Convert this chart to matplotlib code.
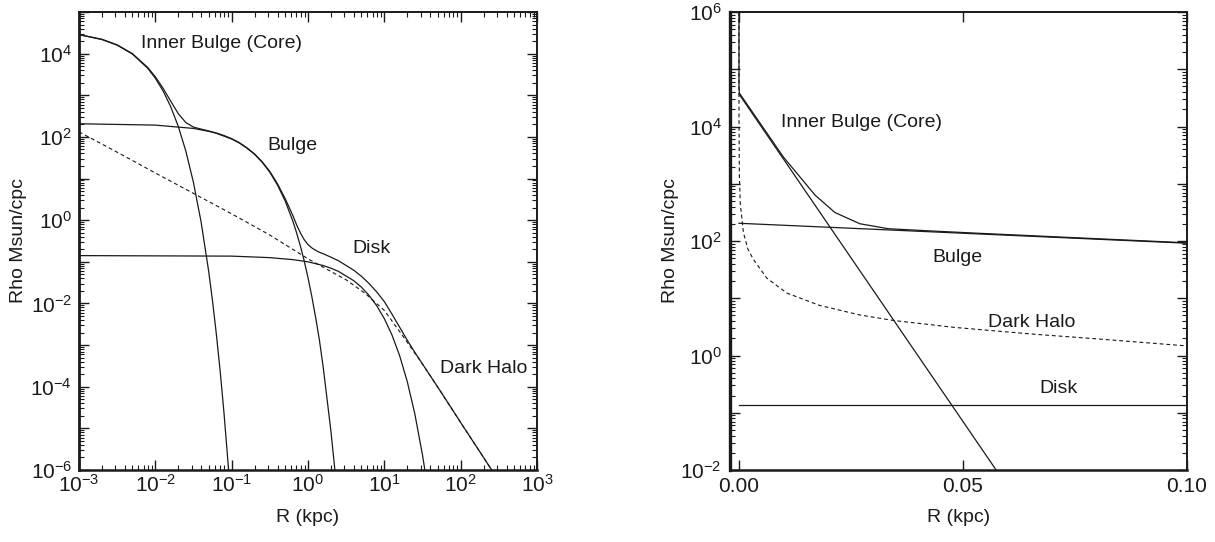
import matplotlib
matplotlib.use("Agg")
import numpy as np
import matplotlib.pyplot as plt
from matplotlib.ticker import LogLocator, FixedLocator, FuncFormatter, NullLocator

plt.rcParams['font.family'] = ['Liberation Sans', 'DejaVu Sans']
plt.rcParams['mathtext.fontset'] = 'custom'
plt.rcParams['mathtext.rm'] = 'Liberation Sans'
plt.rcParams['mathtext.it'] = 'Liberation Sans:italic'
plt.rcParams['mathtext.bf'] = 'Liberation Sans:bold'

# ---- density profiles (R in kpc, rho in Msun/cpc) ----
core_r = [1e-3, 2e-3, 3.16e-3, 5e-3, 7.94e-3, 0.01, 0.0126, 0.0158, 0.02, 0.0251,
          0.0316, 0.0398, 0.05, 0.0562, 0.063, 0.0708, 0.0794, 0.0912]
core_rho = [2.85e4, 2.18e4, 1.60e4, 9.8e3, 4.46e3, 2.57e3, 1.28e3, 546, 178, 45.5,
            8.0, 0.90, 0.059, 0.0112, 1.83e-3, 2.3e-4, 2.3e-5, 1.0e-6]

bulge_r = [1e-3, 0.01, 0.0316, 0.0501, 0.0631, 0.1, 0.126, 0.158, 0.2, 0.251,
           0.316, 0.398, 0.501, 0.631, 0.708, 0.794, 0.891, 1.0, 1.122, 1.259,
           1.413, 1.585, 1.995, 2.2, 2.3]
bulge_rho = [207, 192, 160, 136, 122, 89, 71.4, 54, 38, 24.6,
             14.2, 7.0, 2.92, 0.966, 0.501, 0.241, 0.1055, 0.0417, 0.0147, 4.6e-3,
             1.3e-3, 2.85e-4, 8.7e-6, 1.5e-6, 6.5e-7]

disk_r = [1e-3, 0.1, 0.316, 0.631, 1.0, 1.585, 2.0, 2.512, 3.98, 5.0,
          6.31, 7.94, 10, 12.59, 15.85, 19.95, 25.1, 31.6, 35]
disk_rho = [0.141, 0.137, 0.126, 0.113, 0.100, 0.0813, 0.0703, 0.0588, 0.0352, 0.0247,
            0.0156, 8.85e-3, 4.32e-3, 1.75e-3, 5.6e-4, 1.34e-4, 2.22e-5, 2.3e-6, 7.1e-7]

halo_r = [1e-3, 3.16e-3, 0.01, 0.0316, 0.1, 0.316, 1.0, 1.78, 3.16, 5.62,
          10, 17.8, 31.6, 56.2, 100, 178, 260]
halo_rho = [132, 43, 13.6, 4.4, 1.42, 0.44, 0.118, 0.066, 0.037, 0.0174,
            6.8e-3, 1.58e-3, 3.5e-4, 7.1e-5, 1.38e-5, 2.75e-6, 9.5e-7]

total_r = [1e-3, 2e-3, 3.16e-3, 5e-3, 7.94e-3, 0.01, 0.0126, 0.0158, 0.02, 0.0251,
           0.0316, 0.0398, 0.05, 0.0631, 0.0794, 0.1, 0.126, 0.158, 0.2, 0.251,
           0.316, 0.398, 0.501, 0.631, 0.708, 0.794, 0.891, 1.0, 1.122, 1.259,
           1.413, 1.585, 2.0, 2.512, 3.98, 5.0, 6.31, 7.94, 10, 12.59,
           15.85, 19.95, 25.1, 31.6, 56.2, 100, 178, 260]
total_rho = [2.884e4, 2.207e4, 1.625e4, 1.003e4, 4.67e3, 2.776e3, 1.48e3, 737, 361, 221,
             172, 154, 139, 124, 108, 90.6, 72.7, 55, 38.8, 25.3,
             14.8, 7.5, 3.33, 1.31, 0.778, 0.496, 0.341, 0.26, 0.216, 0.189,
             0.169, 0.156, 0.129, 0.106, 0.0627, 0.0451, 0.0301, 0.0189, 0.0111, 5.55e-3,
             2.7e-3, 1.31e-3, 6.7e-4, 3.52e-4, 7.1e-5, 1.38e-5, 2.75e-6, 9.5e-7]

in_core_r = [0.0, 0.0574]
in_core_rho = [3.7e4, 1.0e-2]

in_bulge_r = [0.0, 0.1]
in_bulge_rho = [204, 91.5]

in_disk_r = [0.0, 0.1]
in_disk_rho = [0.135, 0.135]

in_halo_r = [1e-7, 1e-5, 1e-4, 3e-4, 0.001, 0.002, 0.0032, 0.0062, 0.0107, 0.018,
             0.027, 0.0344, 0.048, 0.066, 0.08, 0.1]
in_halo_rho = [1.3e6, 1.3e4, 1330, 445, 140, 72, 48, 22.5, 12.3, 7.5,
               5.1, 4.1, 3.1, 2.35, 1.95, 1.47]

in_total_r = [1e-7, 1e-5, 1e-4, 0.0099, 0.017, 0.0214, 0.027, 0.0333, 0.042, 0.053,
              0.067, 0.084, 0.1]
in_total_rho = [1.4e6, 5.0e4, 3.82e4, 2.94e3, 631, 315, 200, 164, 151, 137,
                122, 106, 93]

ink = '#1a1a1a'
lw = 0.9
dash = (3.4, 2.6)


def even_decades(v, pos):
    e = int(round(np.log10(v)))
    if e % 2:
        return ''
    return r'$\mathdefault{10^{%d}}$' % e


def all_decades(v, pos):
    e = int(round(np.log10(v)))
    return r'$\mathdefault{10^{%d}}$' % e


def style_axes(ax):
    for side in ['top', 'right', 'bottom', 'left']:
        ax.spines[side].set_color(ink)
        ax.spines[side].set_linewidth(1.4)
    ax.spines['left'].set_linewidth(2.0)
    ax.spines['bottom'].set_linewidth(1.8)
    ax.tick_params(which='both', direction='in', top=True, right=True, colors=ink)
    ax.tick_params(which='major', length=7, width=1.0, labelsize=15)
    ax.tick_params(which='minor', length=3.5, width=0.8)


fig = plt.figure(figsize=(12.15, 5.42), dpi=100)

# ---------------- left: log-log ----------------
ax1 = fig.add_axes([79 / 1215, 72 / 542, 458 / 1215, 458 / 542])
ax1.plot(core_r, core_rho, color=ink, lw=lw)
ax1.plot(bulge_r, bulge_rho, color=ink, lw=lw)
ax1.plot(disk_r, disk_rho, color=ink, lw=lw)
ax1.plot(halo_r, halo_rho, color=ink, lw=lw * 0.9, dashes=dash)
ax1.plot(total_r, total_rho, color=ink, lw=lw)
ax1.set_xscale('log')
ax1.set_yscale('log')
ax1.set_xlim(1e-3, 1e3)
ax1.set_ylim(1e-6, 1e5)
ax1.xaxis.set_major_locator(LogLocator(base=10, numticks=20))
ax1.xaxis.set_minor_locator(LogLocator(base=10, subs=np.arange(2, 10), numticks=20))
ax1.yaxis.set_major_locator(LogLocator(base=10, numticks=20))
ax1.yaxis.set_minor_locator(LogLocator(base=10, subs=np.arange(2, 10), numticks=20))
ax1.xaxis.set_major_formatter(FuncFormatter(all_decades))
ax1.yaxis.set_major_formatter(FuncFormatter(even_decades))
style_axes(ax1)
ax1.tick_params(axis='x', which='major', pad=3)
ax1.tick_params(axis='y', which='major', pad=5)
ax1.set_xlabel('R (kpc)', fontsize=14, color=ink)
ax1.set_ylabel('Rho Msun/cpc', fontsize=14, color=ink)
ax1.xaxis.set_label_coords(0.5, -0.086)
ax1.yaxis.set_label_coords(-0.1135, 0.5)

ax1.text(0.312, 0.932, 'Inner Bulge (Core)', transform=ax1.transAxes, fontsize=14,
         ha='center', va='center', color=ink)
ax1.text(0.467, 0.7096, 'Bulge', transform=ax1.transAxes, fontsize=14,
         ha='center', va='center', color=ink)
ax1.text(0.6386, 0.4847, 'Disk', transform=ax1.transAxes, fontsize=14,
         ha='center', va='center', color=ink)
ax1.text(0.884, 0.2227, 'Dark Halo', transform=ax1.transAxes, fontsize=14,
         ha='center', va='center', color=ink)

# ---------------- right: inner region, linear R ----------------
ax2 = fig.add_axes([730 / 1215, 72 / 542, 457 / 1215, 458 / 542])
ax2.plot(in_core_r, in_core_rho, color=ink, lw=lw)
ax2.plot(in_bulge_r, in_bulge_rho, color=ink, lw=lw)
ax2.plot(in_disk_r, in_disk_rho, color=ink, lw=lw)
ax2.plot(in_halo_r, in_halo_rho, color=ink, lw=lw * 0.9, dashes=dash)
ax2.plot(in_total_r, in_total_rho, color=ink, lw=lw)
ax2.set_yscale('log')
ax2.set_xlim(-0.002, 0.1)
ax2.set_ylim(1e-2, 1e6)
ax2.xaxis.set_major_locator(FixedLocator([0.0, 0.05, 0.10]))
ax2.xaxis.set_minor_locator(NullLocator())
ax2.xaxis.set_major_formatter(FuncFormatter(lambda v, pos: '%.2f' % v))
ax2.yaxis.set_major_locator(LogLocator(base=10, numticks=20))
ax2.yaxis.set_minor_locator(LogLocator(base=10, subs=np.arange(2, 10), numticks=20))
ax2.yaxis.set_major_formatter(FuncFormatter(even_decades))
style_axes(ax2)
ax2.spines['left'].set_linewidth(2.4)
ax2.tick_params(axis='x', which='major', pad=5)
ax2.tick_params(axis='y', which='major', pad=6)
ax2.set_xlabel('R (kpc)', fontsize=14, color=ink)
ax2.set_ylabel('Rho Msun/cpc', fontsize=14, color=ink)
ax2.xaxis.set_label_coords(0.5, -0.086)
ax2.yaxis.set_label_coords(-0.1116, 0.5)

ax2.text(0.2867, 0.7598, 'Inner Bulge (Core)', transform=ax2.transAxes, fontsize=14,
         ha='center', va='center', color=ink)
ax2.text(0.4967, 0.4629, 'Bulge', transform=ax2.transAxes, fontsize=14,
         ha='center', va='center', color=ink)
ax2.text(0.6597, 0.3231, 'Dark Halo', transform=ax2.transAxes, fontsize=14,
         ha='center', va='center', color=ink)
ax2.text(0.7188, 0.179, 'Disk', transform=ax2.transAxes, fontsize=14,
         ha='center', va='center', color=ink)

fig.savefig('out.png', dpi=100)
